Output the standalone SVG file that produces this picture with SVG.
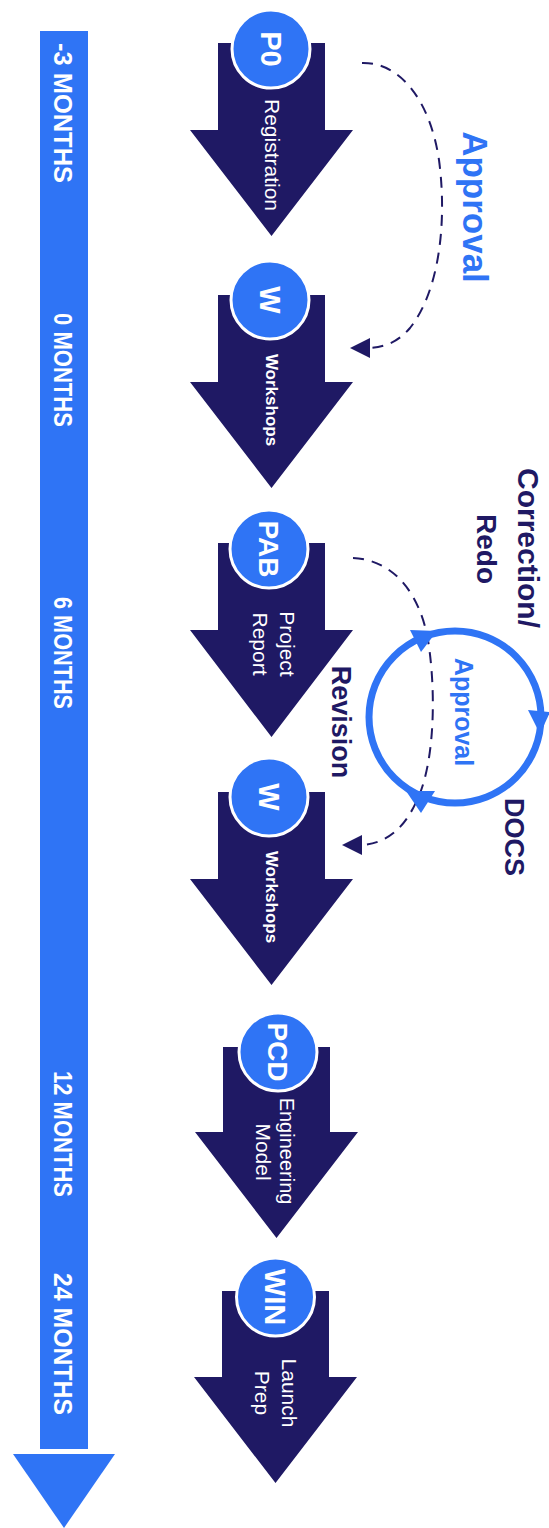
<svg xmlns="http://www.w3.org/2000/svg" width="549" height="1528" viewBox="0 0 549 1528">
<style>
.bg{fill:#ffffff}
.navy{fill:#1f1964}
.blue{fill:#2f74f5}
.bub{fill:#2f74f5;stroke:#ffffff;stroke-width:3}
text{font-family:"Liberation Sans",Arial,sans-serif;text-anchor:middle}
.tl{fill:#ffffff;font-weight:bold;font-size:26px}
.code{fill:#ffffff;font-weight:bold;font-size:29px}
.lbl{fill:#ffffff;font-size:21px}
.lblb{fill:#ffffff;font-weight:bold;font-size:17px}
.nav{fill:#1f1964;font-weight:bold}
.blu{fill:#2f74f5;font-weight:bold}
.dash{fill:none;stroke:#1f1964;stroke-width:2;stroke-dasharray:11 8}
.ring{fill:none;stroke:#2f74f5;stroke-width:7}
</style>
<rect class="bg" x="0" y="0" width="549" height="1528"/>

<g id="timeline">
  <rect class="blue" x="40" y="31" width="48" height="1418"/>
  <polygon class="blue" points="13,1454 115,1454 64,1528"/>
  <text class="tl" transform="translate(63 113) rotate(90)" dy="0.35em" textLength="140" lengthAdjust="spacingAndGlyphs">-3 MONTHS</text>
  <text class="tl" transform="translate(63 370) rotate(90)" dy="0.35em" textLength="114" lengthAdjust="spacingAndGlyphs">0 MONTHS</text>
  <text class="tl" transform="translate(63 653) rotate(90)" dy="0.35em" textLength="112" lengthAdjust="spacingAndGlyphs">6 MONTHS</text>
  <text class="tl" transform="translate(63 1134) rotate(90)" dy="0.35em" textLength="126" lengthAdjust="spacingAndGlyphs">12 MONTHS</text>
  <text class="tl" transform="translate(63 1344) rotate(90)" dy="0.35em" textLength="142" lengthAdjust="spacingAndGlyphs">24 MONTHS</text>
</g>

<g id="node-p0">
  <polygon class="navy" points="218,43 325,43 325,130 353,130 271.5,236 190,130 218,130"/>
  <circle class="bub" cx="271" cy="49" r="39"/>
  <text class="code" transform="translate(271 49) rotate(90)" dy="0.35em">P0</text>
  <text class="lbl" transform="translate(272 155) rotate(90)" dy="0.35em">Registration</text>
</g>

<g id="node-w1">
  <polygon class="navy" points="218,295 325,295 325,382 353,382 271.5,488 190,382 218,382"/>
  <circle class="bub" cx="270" cy="300" r="39"/>
  <text class="code" transform="translate(270 300) rotate(90)" dy="0.35em">W</text>
  <text class="lblb" transform="translate(272 400) rotate(90)" dy="0.35em">Workshops</text>
</g>

<g id="node-pab">
  <polygon class="navy" points="218,543 325,543 325,630 353,630 271.5,737 190,630 218,630"/>
  <circle class="bub" cx="269" cy="549" r="39"/>
  <text class="code" transform="translate(269 549) rotate(90)" dy="0.35em" style="font-size:28px">PAB</text>
  <text class="lbl" transform="translate(287 644) rotate(90)" dy="0.35em">Project</text>
  <text class="lbl" transform="translate(260 644) rotate(90)" dy="0.35em">Report</text>
</g>

<g id="node-w2">
  <polygon class="navy" points="218,792 325,792 325,879 353,879 271.5,985 190,879 218,879"/>
  <circle class="bub" cx="269" cy="797" r="39"/>
  <text class="code" transform="translate(269 797) rotate(90)" dy="0.35em">W</text>
  <text class="lblb" transform="translate(272 897) rotate(90)" dy="0.35em">Workshops</text>
</g>

<g id="node-pcd">
  <polygon class="navy" points="223,1047 330,1047 330,1132 358,1132 276.5,1238 195,1132 223,1132"/>
  <circle class="bub" cx="278" cy="1052" r="39"/>
  <text class="code" transform="translate(278 1052) rotate(90)" dy="0.35em" style="font-size:28px">PCD</text>
  <text class="lbl" transform="translate(287 1151) rotate(90)" dy="0.35em" style="font-size:20px">Engineering</text>
  <text class="lbl" transform="translate(263 1152) rotate(90)" dy="0.35em">Model</text>
</g>

<g id="node-win">
  <polygon class="navy" points="222,1291 329,1291 329,1377 357,1377 275.5,1483 194,1377 222,1377"/>
  <circle class="bub" cx="275.5" cy="1297" r="39"/>
  <text class="code" transform="translate(275.5 1297) rotate(90)" dy="0.35em">WIN</text>
  <text class="lbl" transform="translate(289 1393) rotate(90)" dy="0.35em">Launch</text>
  <text class="lbl" transform="translate(262 1393) rotate(90)" dy="0.35em">Prep</text>
</g>

<g id="connectors">
  <path class="dash" d="M 362 63 C 400 62, 430 100, 439 160 C 447 220, 440 290, 410 328 C 398 342, 385 347, 370 348"/>
  <polygon class="navy" points="350,348 370,338 370,358"/>
  <path class="dash" d="M 353 558 C 395 560, 420 595, 428 640 C 436 690, 435 760, 418 798 C 405 828, 388 842, 364 845"/>
  <polygon class="navy" points="342,845 362,835 362,855"/>
</g>

<g id="approval-cycle">
  <circle class="ring" cx="455" cy="717" r="86"/>
  <polygon class="blue" points="410,630 437,631 421,652"/>
  <polygon class="blue" points="528,710 550,712 540,734"/>
  <polygon class="blue" points="406,791 435,791 421,813"/>
</g>

<g id="labels">
  <text class="blu" transform="translate(463 207) rotate(90)" style="font-size:35px">Approval</text>
  <text class="nav" transform="translate(518 548) rotate(90)" style="font-size:30px">Correction/</text>
  <text class="nav" transform="translate(477 549) rotate(90)" style="font-size:28px">Redo</text>
  <text class="nav" transform="translate(332 722) rotate(90)" style="font-size:27px">Revision</text>
  <text class="blu" transform="translate(455 712) rotate(90)" style="font-size:25px">Approval</text>
  <text class="nav" transform="translate(505 837) rotate(90)" style="font-size:27px">DOCS</text>
</g>
</svg>
